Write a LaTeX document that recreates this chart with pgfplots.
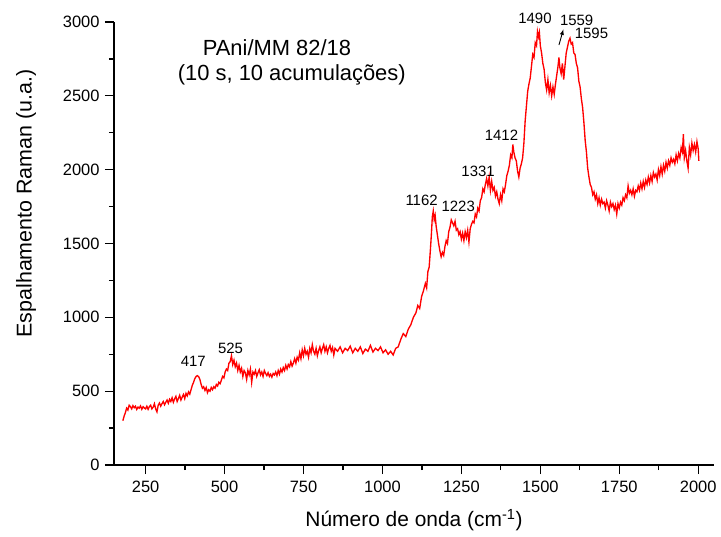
\documentclass[border=0pt]{standalone}
\usepackage{pgfplots}
\pgfplotsset{compat=1.18}
\usepackage{fontspec}
\setmainfont{Liberation Sans}
\usetikzlibrary{calc}

\pgfplotstableread{
x y
178 300
182 330
186 355
190 385
194 372
198 405
202 395
206 380
210 402
214 388
218 398
222 376
226 392
230 385
234 400
238 378
242 395
246 386
250 380
254 398
258 377
262 395
266 405
270 380
274 392
278 415
282 380
286 360
290 405
294 420
298 398
302 415
306 430
310 408
314 425
318 440
322 418
326 445
330 430
334 455
338 425
342 448
346 465
350 430
354 450
358 472
362 440
366 460
370 478
374 450
378 485
382 468
386 495
390 480
394 510
398 540
402 560
406 585
410 600
414 605
418 598
422 580
426 545
430 520
434 530
438 505
442 525
446 490
450 510
454 500
458 525
462 510
466 530
470 520
474 545
478 535
482 560
486 550
490 575
494 600
498 590
502 630
506 650
510 640
514 690
518 700
522 740
526 680
530 710
534 665
538 690
542 640
546 675
550 630
554 655
558 600
562 640
566 625
570 580
574 640
578 610
582 650
586 560
590 630
594 615
598 640
602 600
606 625
610 645
614 610
618 630
622 600
626 640
630 620
634 605
638 625
642 600
646 615
650 595
654 620
658 610
662 630
666 605
670 640
674 615
678 650
682 630
686 660
690 640
694 675
698 650
702 680
706 665
710 700
714 670
718 690
722 720
726 690
730 730
734 710
738 760
742 720
746 780
750 740
754 790
758 750
762 770
766 730
770 790
774 760
778 815
782 770
786 750
790 790
794 740
798 775
802 800
806 760
810 790
814 815
818 770
822 800
826 760
830 790
834 810
838 770
842 795
846 745
850 790
858 770
866 800
874 760
882 790
890 775
898 805
906 760
914 790
922 770
930 800
938 755
946 785
954 770
962 810
970 765
978 790
986 775
994 800
1002 760
1010 780
1018 750
1026 770
1034 745
1042 790
1050 800
1058 850
1066 890
1074 870
1082 920
1090 950
1098 1000
1106 1030
1112 1080
1118 1060
1124 1140
1130 1180
1136 1230
1140 1200
1144 1310
1148 1340
1152 1460
1155 1560
1158 1680
1161 1720
1164 1660
1167 1690
1170 1620
1174 1560
1178 1500
1182 1450
1186 1410
1190 1440
1194 1420
1198 1480
1202 1520
1206 1500
1210 1580
1214 1610
1218 1660
1222 1640
1226 1620
1230 1650
1234 1590
1238 1600
1242 1560
1246 1580
1250 1530
1254 1570
1258 1520
1262 1580
1266 1540
1270 1590
1274 1510
1278 1600
1282 1630
1286 1650
1290 1640
1294 1700
1298 1680
1302 1740
1306 1720
1310 1790
1314 1810
1318 1870
1322 1850
1326 1900
1330 1940
1334 1890
1338 1950
1342 1860
1346 1920
1350 1860
1354 1880
1358 1820
1362 1850
1366 1800
1370 1770
1374 1830
1378 1790
1382 1870
1386 1850
1390 1900
1394 1960
1398 1990
1402 2030
1406 2100
1410 2080
1413 2170
1416 2120
1420 2080
1424 2060
1428 1990
1432 1950
1436 2010
1440 2040
1444 2080
1448 2180
1452 2330
1456 2430
1460 2530
1464 2580
1468 2620
1472 2700
1476 2780
1480 2760
1484 2860
1488 2840
1491 2935
1494 2900
1497 2930
1500 2840
1504 2790
1508 2720
1512 2680
1516 2590
1520 2540
1524 2610
1528 2520
1532 2570
1536 2500
1540 2560
1544 2510
1548 2580
1552 2640
1556 2700
1559 2760
1562 2690
1566 2650
1570 2720
1574 2610
1578 2700
1582 2790
1586 2830
1590 2870
1594 2890
1598 2850
1602 2860
1606 2790
1610 2780
1614 2720
1618 2690
1622 2600
1626 2560
1630 2480
1634 2420
1638 2320
1642 2200
1646 2120
1650 2010
1654 1950
1658 1900
1662 1880
1666 1830
1670 1850
1674 1800
1678 1830
1682 1770
1686 1810
1690 1760
1694 1800
1698 1770
1702 1780
1706 1740
1710 1790
1714 1760
1718 1720
1722 1780
1726 1750
1730 1770
1734 1730
1738 1760
1742 1700
1746 1770
1750 1740
1754 1780
1758 1760
1762 1810
1766 1790
1770 1830
1774 1810
1778 1890
1782 1840
1786 1860
1790 1830
1794 1870
1798 1820
1802 1860
1806 1850
1810 1890
1814 1860
1818 1910
1822 1870
1826 1920
1830 1880
1834 1930
1838 1900
1842 1950
1846 1910
1850 1960
1854 1920
1858 1980
1862 1950
1866 1970
1870 1930
1874 2000
1878 1960
1882 2020
1886 1970
1890 2030
1894 1990
1898 2050
1902 2010
1906 2060
1910 2030
1914 2080
1918 2050
1922 2070
1926 2040
1930 2100
1934 2060
1938 2110
1942 2080
1946 2150
1950 2120
1953 2240
1956 2080
1960 2130
1964 2060
1968 2010
1972 2150
1976 2100
1980 2180
1984 2130
1988 2170
1992 2120
1996 2190
2000 2140
2002 2060
}\raman

\begin{document}
\begin{tikzpicture}
\begin{axis}[
  scale only axis,
  width=600bp, height=443bp,
  xmin=150, xmax=2050,
  ymin=0, ymax=3000,
  axis x line*=bottom,
  axis y line*=left,
  axis line style={-, line width=1.3pt},
  xtick={250,500,...,2000},
  ytick={0,500,...,3000},
  minor x tick num=1,
  minor y tick num=1,
  tick align=outside,
  major tick length=9bp,
  minor tick length=5bp,
  every tick/.style={black, line width=1.3pt},
  /pgf/number format/assume math mode=true,
  /pgf/number format/1000 sep={},
  tick label style={font=\fontsize{16.5}{18}\selectfont},
  xticklabel style={yshift=-4bp},
  yticklabel style={xshift=-2bp},
  xlabel={Número de onda (cm\textsuperscript{-1})},
  ylabel={Espalhamento Raman (u.a.)},
  xlabel style={font=\fontsize{21}{24}\selectfont, yshift=-9bp},
  ylabel style={font=\fontsize{21.5}{24}\selectfont, yshift=20bp, xshift=40bp},
  clip=false,
]
\addplot[red, line width=1.35pt] table[x=x, y=y] {\raman};

\begin{scope}[font=\fontsize{15}{17}\selectfont]
\node at (axis cs:401,700) {417};
\node at (axis cs:519,790) {525};
\node at (axis cs:1124,1794) {1162};
\node at (axis cs:1240,1749) {1223};
\node at (axis cs:1303,1986) {1331};
\node at (axis cs:1377,2235) {1412};
\node at (axis cs:1483,3025) {1490};
\node at (axis cs:1615,3014) {1559};
\node at (axis cs:1662,2923) {1595};
\end{scope}
\draw[-latex, line width=0.9pt] (axis cs:1559,2844) -- (axis cs:1573,2950);

\node[font=\fontsize{22}{26}\selectfont] at (axis cs:666,2823) {PAni/MM 82/18};
\node[font=\fontsize{22}{26}\selectfont] at (axis cs:713,2640) {(10 s, 10 acumulações)};
\end{axis}
\pgfresetboundingbox
\path[use as bounding box] ($(current axis.south west)+(-114bp,-72bp)$) rectangle ($(current axis.north east)+(7bp,22bp)$);
\end{tikzpicture}
\end{document}
